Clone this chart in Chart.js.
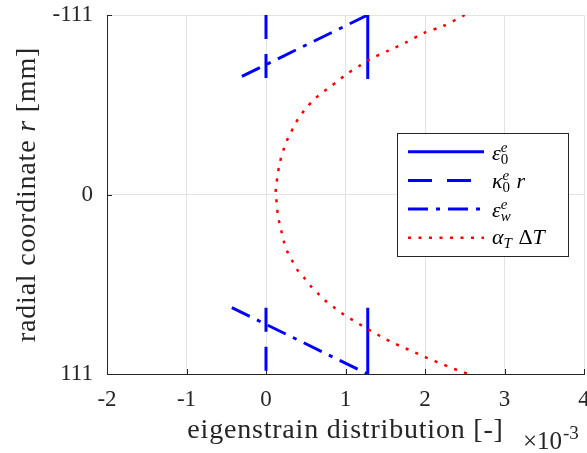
<!DOCTYPE html>
<html>
<head>
<meta charset="utf-8">
<script src="https://cdn.jsdelivr.net/npm/chart.js@4"></script>
<style>
html, body { margin: 0; padding: 0; background: #fff; }
</style>
</head>
<body>
<canvas id="eigen-chart" width="587" height="453"></canvas>
<script>
// strain values are in units of 1e-3 (the x10^-3 label under the axis)
const xTicks = [-2, -1, 0, 1, 2, 3, 4];
const rTicks = [-111, 0, 111];

// eps_0^e (solid) and kappa_0^e r (dashed), only near the two edges
const edgeR = [-111, -71.5, null, 70, 111];
const eps0X = [1.28, 1.28, null, 1.28, 1.28];
const kappaX = [0, 0, null, 0, 0];

// eps_w^e (dash-dot)
const epsWR = [-111, -71.5, null, 70, 111];
const epsWX = [1.28, -0.37, null, -0.43, 1.28];

// alpha_T dT (dotted red)
const thermR = [-111, -104, -100, -94, -89, -84, -80, -74, -70, -66, -62, -58, -53, -48, -43, -38, -32, -26, -19, -13, -6, 0,
    5, 12, 18, 24, 30, 36, 41, 47, 51.5, 56.5, 61, 65.4, 69.6, 73, 76.4, 79.7, 83, 86, 89, 92, 94.4, 97, 99.6, 102, 104.3, 106.8, 109, 111];
const thermX = [2.5, 2.22, 1.99, 1.76, 1.54, 1.32, 1.19, 1.0, 0.9, 0.79, 0.68, 0.59, 0.5, 0.42, 0.36, 0.31, 0.25, 0.21, 0.17, 0.15, 0.13, 0.12,
    0.135, 0.147, 0.17, 0.2, 0.23, 0.275, 0.33, 0.4, 0.48, 0.56, 0.65, 0.74, 0.85, 0.94, 1.05, 1.16, 1.27, 1.38, 1.49, 1.61, 1.72, 1.84, 1.96, 2.07, 2.19, 2.31, 2.43, 2.55];

const axisColor = '#262626';
const serif = '"Liberation Serif", "Times New Roman", serif';

function toPoints(rs, xs) {
    return rs.map((r, i) => (r === null ? {x: null, y: null} : {x: xs[i], y: r}));
}

// legend labels as pieces of math text
const eps0Label = [{t: 'ε', it: true}, {sup: 'e', sub: '0'}];
const kappaLabel = [{t: 'κ', it: true}, {sup: 'e', sub: '0'}, {t: ' r', it: true}];
const epsWLabel = [{t: 'ε', it: true}, {sup: 'e', sub: 'w', subIt: true}];
const thermLabel = [{t: 'α', it: true}, {sub: 'T', subIt: true}, {t: ' Δ'}, {t: 'T', it: true}];

function drawRich(ctx, x, y, parts) {
    parts.forEach(p => {
        if (p.t === undefined) {
            let w = 0;
            if (p.sup) {
                ctx.font = 'italic 15px ' + serif;
                ctx.fillText(p.sup, x, y - 8);
                w = Math.max(w, ctx.measureText(p.sup).width);
            }
            if (p.sub) {
                ctx.font = (p.subIt ? 'italic ' : '') + '15px ' + serif;
                ctx.fillText(p.sub, x, y + 4);
                w = Math.max(w, ctx.measureText(p.sub).width);
            }
            x += w + 1;
        } else {
            ctx.font = (p.it ? 'italic ' : '') + '22px ' + serif;
            ctx.fillText(p.t, x, y);
            x += ctx.measureText(p.t).width;
        }
    });
}

const decorations = {
    id: 'decorations',
    beforeDatasetsDraw(chart) {
        // MATLAB style inward tick marks
        const {ctx, chartArea: a, scales: {x, y}} = chart;
        ctx.save();
        ctx.strokeStyle = axisColor;
        ctx.lineWidth = 1;
        ctx.beginPath();
        x.ticks.forEach(t => {
            const px = Math.round(x.getPixelForValue(t.value)) + 0.5;
            ctx.moveTo(px, a.bottom);
            ctx.lineTo(px, a.bottom - 5);
        });
        y.ticks.forEach(t => {
            const py = Math.round(y.getPixelForValue(t.value)) + 0.5;
            ctx.moveTo(a.left, py);
            ctx.lineTo(a.left + 5, py);
        });
        ctx.stroke();
        ctx.restore();
    },
    afterDraw(chart) {
        const {ctx, chartArea: a} = chart;
        ctx.save();
        ctx.fillStyle = axisColor;
        ctx.textBaseline = 'alphabetic';

        // x title
        ctx.font = '28px ' + serif;
        ctx.letterSpacing = '0.8px';
        ctx.textAlign = 'center';
        ctx.fillText('eigenstrain distribution [-]', (a.left + a.right) / 2, 438);

        // y title with italic r
        const yParts = [['radial coordinate ', ''], ['r', 'italic '], [' [mm]', '']];
        let total = 0;
        yParts.forEach(p => { ctx.font = p[1] + '28px ' + serif; total += ctx.measureText(p[0]).width; });
        ctx.translate(35, (a.top + a.bottom) / 2);
        ctx.rotate(-Math.PI / 2);
        ctx.textAlign = 'left';
        let cx = -total / 2;
        yParts.forEach(p => {
            ctx.font = p[1] + '28px ' + serif;
            ctx.fillText(p[0], cx, 0);
            cx += ctx.measureText(p[0]).width;
        });
        ctx.setTransform(1, 0, 0, 1, 0, 0);
        ctx.letterSpacing = '0px';

        // exponent label
        ctx.textAlign = 'left';
        ctx.font = '25px ' + serif;
        ctx.fillText('×10', 523, 449);
        ctx.font = '19px ' + serif;
        ctx.fillText('-3', 563, 439);

        // legend
        const box = {x: 397.5, y: 133.5, w: 171, h: 123};
        ctx.fillStyle = '#fff';
        ctx.fillRect(box.x, box.y, box.w, box.h);
        ctx.strokeStyle = axisColor;
        ctx.lineWidth = 1;
        ctx.strokeRect(box.x, box.y, box.w, box.h);
        chart.data.datasets.forEach((ds, i) => {
            const rowY = 151.7 + i * 28.7;
            ctx.save();
            ctx.strokeStyle = ds.borderColor;
            ctx.lineWidth = ds.borderWidth;
            ctx.setLineDash(ds.borderDash || []);
            ctx.beginPath();
            ctx.moveTo(408, rowY);
            ctx.lineTo(484, rowY);
            ctx.stroke();
            ctx.restore();
            ctx.fillStyle = '#000';
            drawRich(ctx, 492, rowY + (i === 3 ? 6 : 8), ds.mathLabel);
        });
        ctx.restore();
    }
};

Chart.defaults.font.family = serif;
Chart.defaults.color = axisColor;

new Chart(document.getElementById('eigen-chart').getContext('2d'), {
    type: 'scatter',
    data: {
        datasets: [
            {
                label: 'eps0',
                mathLabel: eps0Label,
                data: toPoints(edgeR, eps0X),
                showLine: true,
                borderColor: '#0000ff',
                borderWidth: 3,
                pointRadius: 0,
                order: 4
            },
            {
                label: 'kappa0 r',
                mathLabel: kappaLabel,
                data: toPoints(edgeR, kappaX),
                showLine: true,
                borderColor: '#0000ff',
                borderWidth: 3,
                borderDash: [24, 15],
                pointRadius: 0,
                order: 3
            },
            {
                label: 'epsw',
                mathLabel: epsWLabel,
                data: toPoints(epsWR, epsWX),
                showLine: true,
                borderColor: '#0000ff',
                borderWidth: 3,
                borderDash: [20, 8, 4, 8],
                pointRadius: 0,
                order: 2
            },
            {
                label: 'alphaT dT',
                mathLabel: thermLabel,
                data: toPoints(thermR, thermX),
                showLine: true,
                borderColor: '#ff0000',
                borderWidth: 2.5,
                borderDash: [3, 7.5],
                tension: 0.3,
                pointRadius: 0,
                order: 1
            }
        ]
    },
    options: {
        responsive: false,
        animation: false,
        devicePixelRatio: 1,
        layout: {
            padding: {top: 15, right: 3, left: 0, bottom: 0}
        },
        plugins: {
            legend: {display: false},
            tooltip: {enabled: false}
        },
        scales: {
            x: {
                type: 'linear',
                min: -2,
                max: 4,
                afterBuildTicks: scale => { scale.ticks = xTicks.map(v => ({value: v})); },
                afterFit: scale => { scale.height = 79; scale.paddingLeft = 0; scale.paddingRight = 0; },
                ticks: {
                    font: {family: serif, size: 23},
                    color: axisColor,
                    padding: 12,
                    maxRotation: 0
                },
                grid: {color: '#e3e3e3', drawTicks: false},
                border: {color: axisColor, width: 1}
            },
            y: {
                type: 'linear',
                reverse: true,
                min: -111,
                max: 111,
                afterBuildTicks: scale => { scale.ticks = rTicks.map(v => ({value: v})); },
                afterFit: scale => { scale.width = 107; scale.paddingTop = 0; scale.paddingBottom = 0; },
                ticks: {
                    font: {family: serif, size: 23},
                    color: axisColor,
                    padding: 14
                },
                grid: {color: '#e3e3e3', drawTicks: false},
                border: {color: axisColor, width: 1}
            }
        }
    },
    plugins: [decorations]
});
</script>
</body>
</html>
